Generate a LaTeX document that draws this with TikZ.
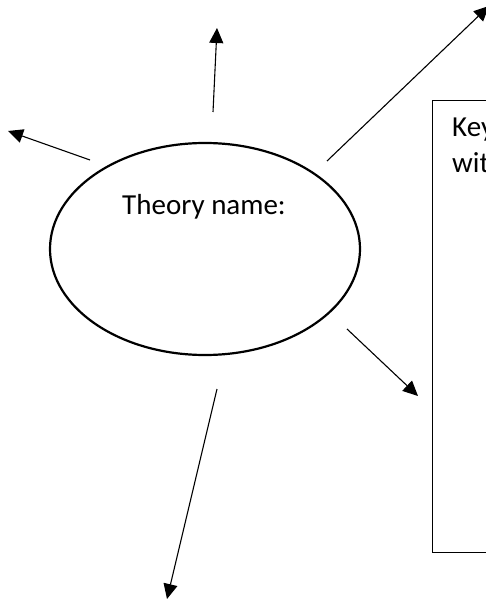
\documentclass[tikz,border=0pt]{standalone}
\usepackage{fontspec}
\setmainfont{Carlito}
\usetikzlibrary{shapes.geometric,arrows.meta}
\begin{document}
\begin{tikzpicture}[x=1pt,y=-1pt,
  conn/.style={line width=1.1pt,-{Triangle[length=15pt,width=14pt]}},
  lbl/.style={inner sep=0pt,font=\fontsize{29}{35}\selectfont}]
\useasboundingbox (0,0) rectangle (485,601);
\node[draw,ellipse,line width=2.2pt,minimum width=310pt,minimum height=212pt,inner sep=0pt] (th) at (205,249) {};
\node[lbl,anchor=base] (name) at (204,215) {Theory name:};
\node[draw,line width=1.4pt,anchor=north west,minimum width=200pt,minimum height=452pt,inner sep=0pt] (box) at (432,100) {};
\node[lbl,anchor=base west] (key) at (452,137) {Key};
\node[lbl,anchor=base west] (wit) at (452,173) {with};
\coordinate (a1) at (213,112); \coordinate (b1) at (217,28);
\coordinate (a2) at (90,160);  \coordinate (b2) at (8,131);
\coordinate (a3) at (327,161); \coordinate (b3) at (489,6);
\coordinate (a4) at (347,329); \coordinate (b4) at (418,396);
\coordinate (a5) at (217,389); \coordinate (b5) at (167,599);
\draw[conn] (a1) -- (b1);
\draw[conn] (a2) -- (b2);
\draw[conn] (a3) -- (b3);
\draw[conn] (a4) -- (b4);
\draw[conn] (a5) -- (b5);
\end{tikzpicture}
\end{document}
